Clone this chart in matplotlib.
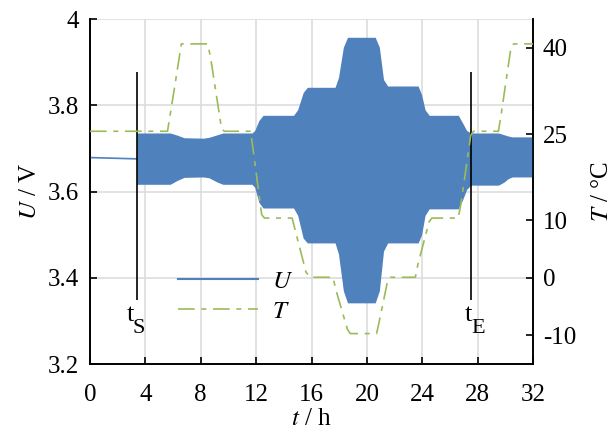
import numpy as np
import matplotlib
matplotlib.use("Agg")
import matplotlib.pyplot as plt
from matplotlib.lines import Line2D

plt.rcParams['font.family'] = ['Liberation Serif', 'DejaVu Serif']
plt.rcParams['mathtext.fontset'] = 'stix'
plt.rcParams['font.size'] = 18
plt.rcParams['axes.unicode_minus'] = False

# temperature profile (h, degC)
t_T = [0, 5.6, 6.1, 6.6, 8.5, 8.7, 9.5, 9.7, 11.6, 11.8, 12.4, 12.6, 14.6, 14.8, 15.6, 15.9,
       17.55, 17.75, 18.6, 18.8, 20.7, 20.9, 21.5, 21.7, 23.5, 23.7, 24.5, 24.7, 26.6, 26.8,
       27.5, 27.7, 29.5, 29.7, 30.4, 30.6, 32]
T = [25.5, 25.5, 33.0, 40.7, 40.7, 38.5, 26.0, 25.5, 25.5, 22.0, 11.0, 10.4, 10.4, 8.5, 1.0, 0.1,
     0.1, -2.0, -9.0, -9.7, -9.7, -7.5, -0.5, 0.1, 0.1, 2.5, 9.8, 10.4, 10.4, 13.0, 24.8, 25.5,
     25.5, 28.5, 40.0, 40.7, 40.7]

# voltage before start (rest)
t_rest = [0, 3.37]
U_rest = [3.679, 3.676]

# envelope of the cycling voltage (upper / lower)
t_env = [3.37, 5.8, 6.3, 6.8, 8.2, 8.6, 9.2, 9.6, 11.7, 11.9, 12.2, 12.5, 14.7, 15.0, 15.4, 15.7,
         17.7, 17.95, 18.3, 18.6, 20.6, 20.9, 21.2, 21.5, 23.7, 23.95, 24.2, 24.5, 26.6, 26.9,
         27.2, 27.5, 29.5, 29.9, 30.2, 30.5, 32]
U_up = [3.736, 3.736, 3.731, 3.725, 3.724, 3.726, 3.732, 3.736, 3.736, 3.742, 3.765, 3.777,
        3.777, 3.790, 3.830, 3.842, 3.842, 3.865, 3.935, 3.958, 3.958, 3.935, 3.860, 3.845,
        3.845, 3.825, 3.790, 3.777, 3.777, 3.760, 3.742, 3.736, 3.736, 3.732, 3.729, 3.727, 3.727]
U_lo = [3.617, 3.617, 3.626, 3.633, 3.634, 3.632, 3.622, 3.617, 3.617, 3.610, 3.575, 3.562,
        3.562, 3.545, 3.492, 3.481, 3.481, 3.455, 3.370, 3.342, 3.342, 3.370, 3.462, 3.481,
        3.481, 3.500, 3.545, 3.560, 3.560, 3.580, 3.605, 3.615, 3.615, 3.622, 3.630, 3.634, 3.634]

t_S, t_E = 3.37, 27.5

blue = '#4f81bd'
green = '#9bbb59'

fig = plt.figure(figsize=(6.12, 4.36), dpi=100)
ax = fig.add_axes([0.147, 0.165, 0.724, 0.791])
ax2 = ax.twinx()

ax.fill_between(t_env, U_lo, U_up, color=blue, lw=0, zorder=3)
ax.plot(t_rest, U_rest, color=blue, lw=1.2, zorder=3)
ax.vlines([t_S, t_E], 3.348, 3.877, color='black', lw=1.2, zorder=5)
# marker labels: "t" with a lowered letter
ax.text(2.89, 3.314, 't', ha='center', va='center', fontsize=19, zorder=6)
ax.text(3.54, 3.282, 'S', ha='center', va='center', fontsize=16, zorder=6)
ax.text(27.35, 3.314, 't', ha='center', va='center', fontsize=19, zorder=6)
ax.text(28.07, 3.282, 'E', ha='center', va='center', fontsize=16, zorder=6)

ax2.plot(t_T, T, color=green, lw=1.2, dashes=(10, 4, 3, 4), zorder=4)

ax.set_xlim(0, 32)
ax.set_ylim(3.2, 4.0)
ax2.set_ylim(-15, 45)
ax.set_xticks(range(0, 33, 4))
ax.set_yticks([3.2, 3.4, 3.6, 3.8, 4.0])
ax.set_yticklabels(['3.2', '3.4', '3.6', '3.8', '4'])
ax2.set_yticks([-10, 0, 10, 25, 40])

ax.grid(True, color='#dddddd', lw=1.2, zorder=0)
ax.set_axisbelow(True)
for a in (ax, ax2):
    a.spines['top'].set_visible(False)
    for s in ('left', 'right', 'bottom'):
        a.spines[s].set_linewidth(1.2)
ax.tick_params(axis='y', direction='in', length=5, width=1.2, labelsize=18, pad=8)
ax.tick_params(axis='x', direction='in', length=5, width=1.2, labelsize=18, pad=14.5)
ax2.tick_params(direction='in', length=5, width=1.2, labelsize=18, pad=7)

ax.set_xlabel(r'$t$ / h', fontsize=18, labelpad=1)
ax.set_ylabel(r'$U$ / V', fontsize=18, labelpad=5)
ax2.set_ylabel(r'$T$ / °C', fontsize=18, labelpad=11)

handles = [Line2D([], [], color=blue, lw=1.5),
           Line2D([], [], color=green, lw=1.2, dashes=(10, 4, 3, 4))]
ax2.legend(handles, [r'$U$', r'$T$'], loc='upper left', bbox_to_anchor=(0.199, 0.271),
           frameon=False, handlelength=3.2, handletextpad=0.55, labelspacing=0.3,
           borderpad=0, borderaxespad=0, fontsize=18)

fig.savefig('out.png', dpi=100)
